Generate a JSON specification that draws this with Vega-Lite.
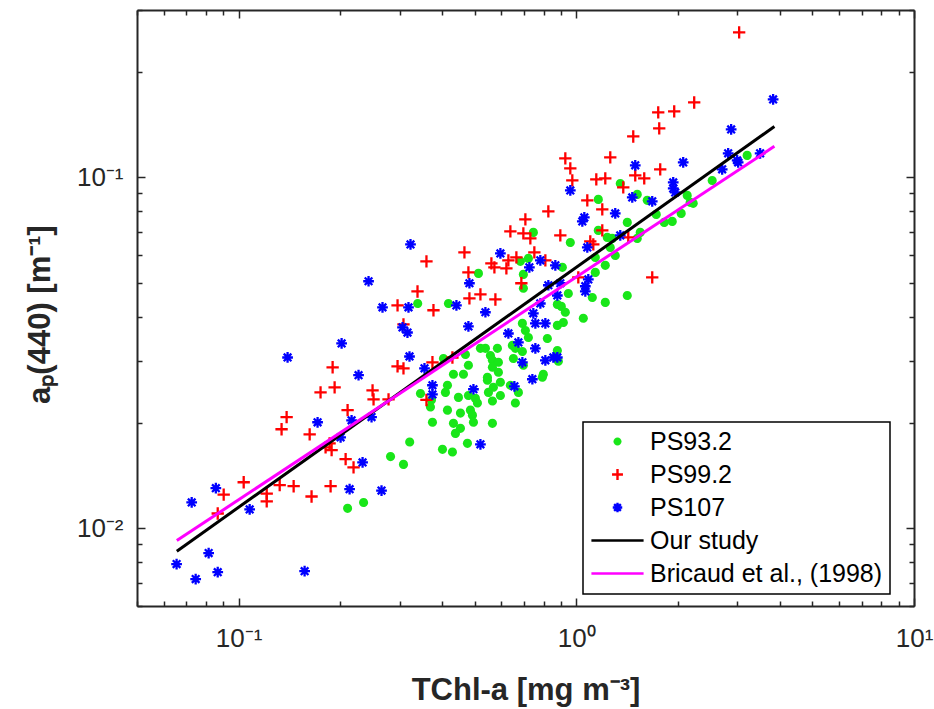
{
  "$schema": "https://vega.github.io/schema/vega-lite/v6.json",
  "width": 777,
  "height": 596,
  "autosize": {"type": "none"},
  "padding": {"left": 137, "top": 10, "right": 20, "bottom": 103},
  "background": "white",
  "config": {
    "view": {"stroke": null},
    "axis": {
      "domainColor": "#262626", "domainWidth": 2, "tickColor": "#262626", "tickWidth": 1.5, "grid": false,
      "labelFont": "Liberation Sans", "labelFontSize": 26, "labelColor": "#262626",
      "titleFont": "Liberation Sans", "titleFontSize": 31, "titleFontWeight": "bold", "titleColor": "#262626",
      "labelOverlap": false, "labelFlush": false, "labelBound": false
    },
    "legend": {"orient": "none", "legendX": 446, "legendY": 412, "title": null, "padding": 7, "rowPadding": 7, "symbolSize": 90, "symbolStrokeWidth": 2.4, "symbolOffset": 15, "labelOffset": 20, "labelFontSize": 25, "labelFont": "Liberation Sans", "labelColor": "black", "strokeColor": "black", "fillColor": "white", "labelLimit": 400}
  },
  "datasets": {
    "lines": [
      {"s": "Our study", "x": 0.0656, "y": 0.0086},
      {"s": "Our study", "x": 3.86, "y": 0.1396},
      {"s": "Bricaud et al., (1998)", "x": 0.0656, "y": 0.00922},
      {"s": "Bricaud et al., (1998)", "x": 3.86, "y": 0.1226}
    ],
    "pts": [
      {"s":"PS93.2","x":0.339,"y":0.0437},{"s":"PS93.2","x":0.3455,"y":0.0242},{"s":"PS93.2","x":0.321,"y":0.0176},{"s":"PS93.2","x":0.2817,"y":0.016},{"s":"PS93.2","x":0.3077,"y":0.0152},{"s":"PS93.2","x":0.2102,"y":0.01139},{"s":"PS93.2","x":0.2344,"y":0.01184},{"s":"PS93.2","x":0.4181,"y":0.0437},{"s":"PS93.2","x":0.52,"y":0.03255},{"s":"PS93.2","x":0.538,"y":0.03255},{"s":"PS93.2","x":0.5838,"y":0.03255},{"s":"PS93.2","x":0.4694,"y":0.03127},{"s":"PS93.2","x":0.4041,"y":0.03046},{"s":"PS93.2","x":0.5566,"y":0.03106},{"s":"PS93.2","x":0.5643,"y":0.0301},{"s":"PS93.2","x":0.4791,"y":0.02913},{"s":"PS93.2","x":0.5878,"y":0.02971},{"s":"PS93.2","x":0.5643,"y":0.02875},{"s":"PS93.2","x":0.5878,"y":0.02783},{"s":"PS93.2","x":0.5454,"y":0.02693},{"s":"PS93.2","x":0.5454,"y":0.0264},{"s":"PS93.2","x":0.4326,"y":0.02747},{"s":"PS93.2","x":0.4631,"y":0.02747},{"s":"PS93.2","x":0.4153,"y":0.02555},{"s":"PS93.2","x":0.4096,"y":0.02438},{"s":"PS93.2","x":0.5958,"y":0.02606},{"s":"PS93.2","x":0.5681,"y":0.02521},{"s":"PS93.2","x":0.5492,"y":0.02438},{"s":"PS93.2","x":0.5958,"y":0.0239},{"s":"PS93.2","x":0.4476,"y":0.02359},{"s":"PS93.2","x":0.4791,"y":0.0239},{"s":"PS93.2","x":0.5026,"y":0.02344},{"s":"PS93.2","x":0.5094,"y":0.02275},{"s":"PS93.2","x":0.5643,"y":0.02305},{"s":"PS93.2","x":0.3723,"y":0.0232},{"s":"PS93.2","x":0.3698,"y":0.02216},{"s":"PS93.2","x":0.4153,"y":0.0217},{"s":"PS93.2","x":0.4537,"y":0.02128},{"s":"PS93.2","x":0.4857,"y":0.0217},{"s":"PS93.2","x":0.4924,"y":0.021},{"s":"PS93.2","x":0.4958,"y":0.02004},{"s":"PS93.2","x":0.3749,"y":0.02004},{"s":"PS93.2","x":0.4326,"y":0.0199},{"s":"PS93.2","x":0.4537,"y":0.01926},{"s":"PS93.2","x":0.4385,"y":0.01863},{"s":"PS93.2","x":0.5643,"y":0.0199},{"s":"PS93.2","x":0.4759,"y":0.01745},{"s":"PS93.2","x":0.4014,"y":0.01678},{"s":"PS93.2","x":0.4296,"y":0.01648},{"s":"PS93.2","x":0.6599,"y":0.02275},{"s":"PS93.2","x":0.6736,"y":0.02438},{"s":"PS93.2","x":0.6378,"y":0.02555},{"s":"PS93.2","x":0.6922,"y":0.03834},{"s":"PS93.2","x":0.7065,"y":0.0366},{"s":"PS93.2","x":0.7211,"y":0.03496},{"s":"PS93.2","x":0.8207,"y":0.03473},{"s":"PS93.2","x":0.6599,"y":0.03255},{"s":"PS93.2","x":0.6466,"y":0.03319},{"s":"PS93.2","x":0.651,"y":0.03046},{"s":"PS93.2","x":0.7986,"y":0.02747},{"s":"PS93.2","x":0.7932,"y":0.02693},{"s":"PS93.2","x":0.6922,"y":0.03189},{"s":"PS93.2","x":0.6969,"y":0.02913},{"s":"PS93.2","x":0.513,"y":0.05324},{"s":"PS93.2","x":0.746,"y":0.06968},{"s":"PS93.2","x":0.6828,"y":0.05762},{"s":"PS93.2","x":0.7211,"y":0.05874},{"s":"PS93.2","x":0.6969,"y":0.05289},{"s":"PS93.2","x":0.6969,"y":0.0483},{"s":"PS93.2","x":1.3493,"y":0.09609},{"s":"PS93.2","x":1.1616,"y":0.08654},{"s":"PS93.2","x":1.6218,"y":0.086},{"s":"PS93.2","x":1.4153,"y":0.07442},{"s":"PS93.2","x":1.7244,"y":0.07841},{"s":"PS93.2","x":1.821,"y":0.07442},{"s":"PS93.2","x":1.923,"y":0.07491},{"s":"PS93.2","x":2.0443,"y":0.07893},{"s":"PS93.2","x":1.1616,"y":0.0706},{"s":"PS93.2","x":1.235,"y":0.06743},{"s":"PS93.2","x":1.2778,"y":0.06699},{"s":"PS93.2","x":0.9598,"y":0.06524},{"s":"PS93.2","x":1.2604,"y":0.06313},{"s":"PS93.2","x":1.515,"y":0.06699},{"s":"PS93.2","x":1.5462,"y":0.06968},{"s":"PS93.2","x":1.1381,"y":0.05912},{"s":"PS93.2","x":1.3041,"y":0.0599},{"s":"PS93.2","x":1.2183,"y":0.05613},{"s":"PS93.2","x":1.1381,"y":0.05359},{"s":"PS93.2","x":0.909,"y":0.0554},{"s":"PS93.2","x":0.9469,"y":0.04667},{"s":"PS93.2","x":1.1151,"y":0.04546},{"s":"PS93.2","x":1.4153,"y":0.04606},{"s":"PS93.2","x":1.2183,"y":0.04402},{"s":"PS93.2","x":0.8786,"y":0.04344},{"s":"PS93.2","x":0.9027,"y":0.04288},{"s":"PS93.2","x":0.9277,"y":0.04126},{"s":"PS93.2","x":0.9152,"y":0.03859},{"s":"PS93.2","x":0.8786,"y":0.03784},{"s":"PS93.2","x":1.0488,"y":0.03966},{"s":"PS93.2","x":0.8786,"y":0.0321},{"s":"PS93.2","x":0.8846,"y":0.0299},{"s":"PS93.2","x":1.515,"y":0.08942},{"s":"PS93.2","x":2.1298,"y":0.08883},{"s":"PS93.2","x":2.1737,"y":0.08488},{"s":"PS93.2","x":2.2187,"y":0.08432},{"s":"PS93.2","x":2.5254,"y":0.098},{"s":"PS93.2","x":3.2053,"y":0.1155},
      {"s":"PS99.2","x":0.2955,"y":0.04316},{"s":"PS99.2","x":0.3775,"y":0.0418},{"s":"PS99.2","x":0.4824,"y":0.04517},{"s":"PS99.2","x":0.52,"y":0.04637},{"s":"PS99.2","x":0.5759,"y":0.04487},{"s":"PS99.2","x":0.3077,"y":0.03809},{"s":"PS99.2","x":0.1898,"y":0.02875},{"s":"PS99.2","x":0.1748,"y":0.02438},{"s":"PS99.2","x":0.1924,"y":0.02521},{"s":"PS99.2","x":0.2492,"y":0.0247},{"s":"PS99.2","x":0.2509,"y":0.02328},{"s":"PS99.2","x":0.2955,"y":0.02894},{"s":"PS99.2","x":0.3077,"y":0.02856},{"s":"PS99.2","x":0.2779,"y":0.02328},{"s":"PS99.2","x":0.3749,"y":0.02971},{"s":"PS99.2","x":0.4296,"y":0.03066},{"s":"PS99.2","x":0.3599,"y":0.0232},{"s":"PS99.2","x":0.2102,"y":0.0217},{"s":"PS99.2","x":0.1387,"y":0.02073},{"s":"PS99.2","x":0.134,"y":0.01914},{"s":"PS99.2","x":0.1623,"y":0.01851},{"s":"PS99.2","x":0.1859,"y":0.01745},{"s":"PS99.2","x":0.1809,"y":0.017},{"s":"PS99.2","x":0.1885,"y":0.0167},{"s":"PS99.2","x":0.2074,"y":0.01574},{"s":"PS99.2","x":0.2189,"y":0.0149},{"s":"PS99.2","x":0.1035,"y":0.01352},{"s":"PS99.2","x":0.0903,"y":0.01247},{"s":"PS99.2","x":0.1211,"y":0.01255},{"s":"PS99.2","x":0.1211,"y":0.01192},{"s":"PS99.2","x":0.1323,"y":0.01326},{"s":"PS99.2","x":0.1455,"y":0.01317},{"s":"PS99.2","x":0.1872,"y":0.01317},{"s":"PS99.2","x":0.1644,"y":0.01231},{"s":"PS99.2","x":0.0867,"y":0.01101},{"s":"PS99.2","x":0.3599,"y":0.05762},{"s":"PS99.2","x":0.3386,"y":0.04729},{"s":"PS99.2","x":0.8263,"y":0.07998},{"s":"PS99.2","x":0.7065,"y":0.07589},{"s":"PS99.2","x":0.6378,"y":0.07014},{"s":"PS99.2","x":0.6969,"y":0.06922},{"s":"PS99.2","x":0.7309,"y":0.06699},{"s":"PS99.2","x":0.8966,"y":0.06832},{"s":"PS99.2","x":0.4663,"y":0.0611},{"s":"PS99.2","x":0.6645,"y":0.05912},{"s":"PS99.2","x":0.6292,"y":0.058},{"s":"PS99.2","x":0.5604,"y":0.05687},{"s":"PS99.2","x":0.572,"y":0.0554},{"s":"PS99.2","x":0.6207,"y":0.05504},{"s":"PS99.2","x":0.7511,"y":0.0611},{"s":"PS99.2","x":0.4791,"y":0.05359},{"s":"PS99.2","x":0.6874,"y":0.04991},{"s":"PS99.2","x":0.8096,"y":0.058},{"s":"PS99.2","x":0.9277,"y":0.1133},{"s":"PS99.2","x":0.9598,"y":0.1061},{"s":"PS99.2","x":0.973,"y":0.098},{"s":"PS99.2","x":1.2604,"y":0.114},{"s":"PS99.2","x":1.1459,"y":0.0987},{"s":"PS99.2","x":1.2183,"y":0.09935},{"s":"PS99.2","x":1.4945,"y":0.1013},{"s":"PS99.2","x":1.589,"y":0.09935},{"s":"PS99.2","x":1.7719,"y":0.1054},{"s":"PS99.2","x":1.3772,"y":0.0936},{"s":"PS99.2","x":1.0777,"y":0.086},{"s":"PS99.2","x":1.1936,"y":0.08107},{"s":"PS99.2","x":1.1936,"y":0.0706},{"s":"PS99.2","x":1.0999,"y":0.06567},{"s":"PS99.2","x":1.1227,"y":0.06439},{"s":"PS99.2","x":1.425,"y":0.06743},{"s":"PS99.2","x":1.678,"y":0.05186},{"s":"PS99.2","x":1.0136,"y":0.05186},{"s":"PS99.2","x":3.0353,"y":0.2589},{"s":"PS99.2","x":2.2339,"y":0.1635},{"s":"PS99.2","x":1.748,"y":0.1532},{"s":"PS99.2","x":1.9493,"y":0.1542},{"s":"PS99.2","x":1.76,"y":0.1379},{"s":"PS99.2","x":1.4743,"y":0.1308},
      {"s":"PS107","x":0.2667,"y":0.0426},{"s":"PS107","x":0.3184,"y":0.0426},{"s":"PS107","x":0.4415,"y":0.04316},{"s":"PS107","x":0.538,"y":0.04126},{"s":"PS107","x":0.4791,"y":0.03759},{"s":"PS107","x":0.3057,"y":0.03734},{"s":"PS107","x":0.3162,"y":0.03612},{"s":"PS107","x":0.2018,"y":0.03363},{"s":"PS107","x":0.1396,"y":0.03066},{"s":"PS107","x":0.3206,"y":0.03086},{"s":"PS107","x":0.2265,"y":0.02729},{"s":"PS107","x":0.3551,"y":0.02856},{"s":"PS107","x":0.3749,"y":0.02555},{"s":"PS107","x":0.3749,"y":0.02406},{"s":"PS107","x":0.4958,"y":0.02489},{"s":"PS107","x":0.6292,"y":0.03589},{"s":"PS107","x":0.6736,"y":0.03385},{"s":"PS107","x":0.7563,"y":0.03255},{"s":"PS107","x":0.746,"y":0.04098},{"s":"PS107","x":0.7563,"y":0.03834},{"s":"PS107","x":0.8096,"y":0.03834},{"s":"PS107","x":0.7824,"y":0.0437},{"s":"PS107","x":0.6922,"y":0.02971},{"s":"PS107","x":0.8096,"y":0.0301},{"s":"PS107","x":0.855,"y":0.03066},{"s":"PS107","x":0.6555,"y":0.02538},{"s":"PS107","x":0.741,"y":0.02658},{"s":"PS107","x":0.1713,"y":0.02004},{"s":"PS107","x":0.216,"y":0.0203},{"s":"PS107","x":0.2475,"y":0.02073},{"s":"PS107","x":0.2004,"y":0.01815},{"s":"PS107","x":0.2328,"y":0.0154},{"s":"PS107","x":0.52,"y":0.01734},{"s":"PS107","x":0.0856,"y":0.013},{"s":"PS107","x":0.0726,"y":0.01184},{"s":"PS107","x":0.1078,"y":0.01131},{"s":"PS107","x":0.2131,"y":0.01292},{"s":"PS107","x":0.2649,"y":0.0128},{"s":"PS107","x":0.0815,"y":0.00849},{"s":"PS107","x":0.0655,"y":0.0079},{"s":"PS107","x":0.0746,"y":0.00716},{"s":"PS107","x":0.0867,"y":0.00749},{"s":"PS107","x":0.1568,"y":0.00754},{"s":"PS107","x":0.3228,"y":0.06439},{"s":"PS107","x":0.2425,"y":0.05057},{"s":"PS107","x":0.5958,"y":0.06069},{"s":"PS107","x":0.7824,"y":0.058},{"s":"PS107","x":0.726,"y":0.0554},{"s":"PS107","x":0.8667,"y":0.05613},{"s":"PS107","x":0.4824,"y":0.04991},{"s":"PS107","x":0.8263,"y":0.04926},{"s":"PS107","x":0.8966,"y":0.04991},{"s":"PS107","x":1.4945,"y":0.1082},{"s":"PS107","x":0.9598,"y":0.0918},{"s":"PS107","x":1.9361,"y":0.09673},{"s":"PS107","x":1.9361,"y":0.093},{"s":"PS107","x":1.9626,"y":0.09061},{"s":"PS107","x":2.0725,"y":0.1103},{"s":"PS107","x":1.4643,"y":0.08768},{"s":"PS107","x":1.678,"y":0.08544},{"s":"PS107","x":1.3041,"y":0.07893},{"s":"PS107","x":1.056,"y":0.07689},{"s":"PS107","x":1.0417,"y":0.07491},{"s":"PS107","x":1.3493,"y":0.06832},{"s":"PS107","x":1.0777,"y":0.06313},{"s":"PS107","x":1.0851,"y":0.05119},{"s":"PS107","x":1.0632,"y":0.04894},{"s":"PS107","x":1.0632,"y":0.04729},{"s":"PS107","x":0.8786,"y":0.04606},{"s":"PS107","x":0.8786,"y":0.03066},{"s":"PS107","x":3.8265,"y":0.1668},{"s":"PS107","x":2.874,"y":0.137},{"s":"PS107","x":2.8162,"y":0.1171},{"s":"PS107","x":2.9942,"y":0.1118},{"s":"PS107","x":3.0148,"y":0.1103},{"s":"PS107","x":2.7034,"y":0.1054},{"s":"PS107","x":3.5019,"y":0.1171}
    ]
  },
  "layer": [
    {
      "data": {"name": "pts"},
      "mark": {"type": "point", "size": 115, "strokeWidth": 2.3, "opacity": 1},
      "encoding": {
        "x": {
          "field": "x", "type": "quantitative",
          "scale": {"type": "log", "domain": [0.05, 10], "nice": false},
          "axis": {
            "orient": "bottom",
            "values": [0.05,0.06,0.07,0.08,0.09,0.1,0.2,0.3,0.4,0.5,0.6,0.7,0.8,0.9,1,2,3,4,5,6,7,8,9,10],
            "labelExpr": "datum.value == 0.1 ? '10⁻¹' : datum.value == 1 ? '10⁰' : datum.value == 10 ? '10¹' : ''",
            "tickSize": {"condition": {"test": "abs(log(datum.value)/LN10 - round(log(datum.value)/LN10)) < 0.000001", "value": -8}, "value": -5},
            "labelPadding": 27,
            "title": "TChl-a [mg m⁻³]",
            "titleY": 93, "titleBaseline": "alphabetic"
          }
        },
        "y": {
          "field": "y", "type": "quantitative",
          "scale": {"type": "log", "domain": [0.006, 0.3], "nice": false},
          "axis": {
            "orient": "left",
            "values": [0.006,0.007,0.008,0.009,0.01,0.02,0.03,0.04,0.05,0.06,0.07,0.08,0.09,0.1,0.2,0.3],
            "labelExpr": "datum.value == 0.01 ? '10⁻²' : datum.value == 0.1 ? '10⁻¹' : ''",
            "tickSize": {"condition": {"test": "abs(log(datum.value)/LN10 - round(log(datum.value)/LN10)) < 0.000001", "value": -8}, "value": -5},
            "labelPadding": 22,
            "title": "aₚ(440) [m⁻¹]",
            "titleX": -88, "titleY": 304, "titleAngle": 270, "titleBaseline": "alphabetic", "titleAlign": "center"
          }
        },
        "shape": {
          "field": "s", "type": "nominal",
          "scale": {
            "domain": ["PS93.2", "PS99.2", "PS107", "Our study", "Bricaud et al., (1998)"],
            "range": [
              "M-0.85,0A0.85,0.85,0,1,0,0.85,0A0.85,0.85,0,1,0,-0.85,0Z",
              "M-1.15,0L1.15,0M0,-1.15L0,1.15",
              "M-1,0L1,0M0,-1L0,1M-0.71,-0.71L0.71,0.71M-0.71,0.71L0.71,-0.71",
              "M-5.5,0L5.5,0",
              "M-5.5,0L5.5,0"
            ]
          },
          "legend": {"encode": {"legend": {"update": {"strokeWidth": {"value": 1.5}}}}}
        },
        "fill": {
          "field": "s", "type": "nominal",
          "scale": {"domain": ["PS93.2", "PS99.2", "PS107", "Our study", "Bricaud et al., (1998)"], "range": ["#19e619", "transparent", "transparent", "transparent", "transparent"]},
          "legend": {"encode": {"legend": {"update": {"strokeWidth": {"value": 1.5}}}}}
        },
        "stroke": {
          "field": "s", "type": "nominal",
          "scale": {"domain": ["PS93.2", "PS99.2", "PS107", "Our study", "Bricaud et al., (1998)"], "range": ["transparent", "#ff0000", "#0000ff", "#000000", "#ff00ff"]},
          "legend": {"encode": {"legend": {"update": {"strokeWidth": {"value": 1.5}}}}}
        }
      }
    },
    {
      "data": {"name": "lines"},
      "mark": {"type": "line", "strokeWidth": 3},
      "encoding": {
        "x": {
          "field": "x", "type": "quantitative",
          "scale": {"type": "log", "domain": [0.05, 10], "nice": false},
          "axis": {
            "orient": "top", "labels": false, "title": null,
            "values": [0.05,0.06,0.07,0.08,0.09,0.1,0.2,0.3,0.4,0.5,0.6,0.7,0.8,0.9,1,2,3,4,5,6,7,8,9,10],
            "tickSize": {"condition": {"test": "abs(log(datum.value)/LN10 - round(log(datum.value)/LN10)) < 0.000001", "value": -8}, "value": -5}
          }
        },
        "y": {
          "field": "y", "type": "quantitative",
          "scale": {"type": "log", "domain": [0.006, 0.3], "nice": false},
          "axis": {
            "orient": "right", "labels": false, "title": null,
            "values": [0.006,0.007,0.008,0.009,0.01,0.02,0.03,0.04,0.05,0.06,0.07,0.08,0.09,0.1,0.2,0.3],
            "tickSize": {"condition": {"test": "abs(log(datum.value)/LN10 - round(log(datum.value)/LN10)) < 0.000001", "value": -8}, "value": -5}
          }
        },
        "stroke": {
          "field": "s", "type": "nominal",
          "scale": {"domain": ["PS93.2", "PS99.2", "PS107", "Our study", "Bricaud et al., (1998)"], "range": ["transparent", "#ff0000", "#0000ff", "#000000", "#ff00ff"]},
          "legend": {"encode": {"legend": {"update": {"strokeWidth": {"value": 1.5}}}}}
        }
      }
    }
  ],
  "resolve": {"axis": {"x": "independent", "y": "independent"}}
}
